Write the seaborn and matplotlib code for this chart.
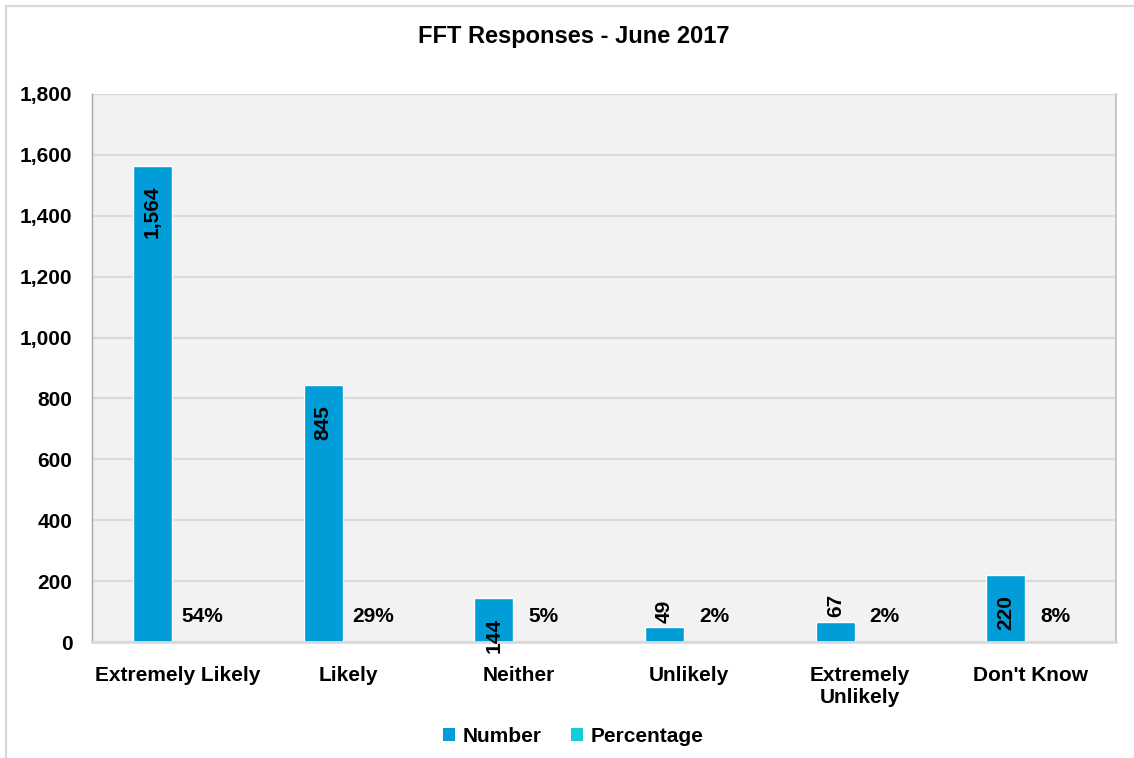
import matplotlib
matplotlib.use("Agg")
import matplotlib.pyplot as plt
from matplotlib.patches import Patch, Rectangle
from matplotlib.ticker import FuncFormatter
import pandas as pd
import seaborn as sns

# FFT survey results for June 2017
categories = ["Extremely Likely", "Likely", "Neither", "Unlikely",
              "Extremely\nUnlikely", "Don't Know"]
numbers = [1564, 845, 144, 49, 67, 220]
percentages = [0.54, 0.29, 0.05, 0.02, 0.02, 0.08]
series_names = ["Number", "Percentage"]
y_ticks = [0, 200, 400, 600, 800, 1000, 1200, 1400, 1600, 1800]

NUM_COLOR = "#009DD9"
PCT_COLOR = "#12CCD8"
FONT = "Liberation Sans"

df = pd.DataFrame({
    "category": categories * 2,
    "series": [series_names[0]] * len(categories) + [series_names[1]] * len(categories),
    "value": numbers + percentages,
})

sns.set_theme(style="white")
plt.rcParams["font.family"] = [FONT, "DejaVu Sans"]
plt.rcParams["font.weight"] = "bold"
plt.rcParams["text.color"] = "black"

fig = plt.figure(figsize=(11.34, 7.58), dpi=100)
W, H = 1134, 758
ax = fig.add_axes([92 / W, 1 - 642 / H, (1116 - 92) / W, (642 - 94) / H])

sns.barplot(data=df, x="category", y="value", hue="series",
            palette=[NUM_COLOR, PCT_COLOR], width=0.58, gap=0.21,
            saturation=1, ax=ax, legend=False)

ax.set_facecolor("#F2F2F2")
ax.set_ylim(0, 1800)
ax.set_yticks(y_ticks)
ax.yaxis.set_major_formatter(FuncFormatter(lambda v, _: f"{int(v):,}"))
ax.grid(axis="y", color="#D9D9D9", linewidth=1.6)
ax.set_axisbelow(True)
ax.set_xlabel("")
ax.set_ylabel("")
ax.tick_params(axis="y", length=0, pad=14, labelsize=15)
ax.tick_params(axis="x", length=0, pad=17, labelsize=15)
for lab in ax.get_xticklabels() + ax.get_yticklabels():
    lab.set_fontweight("bold")
    lab.set_color("black")
for lab in ax.get_xticklabels():
    lab.set_linespacing(1.25)

ax.spines["top"].set_visible(False)
ax.spines["left"].set_color("#A6A6A6")
ax.spines["left"].set_linewidth(1.0)
ax.spines["right"].set_color("#BFBFBF")
ax.spines["right"].set_linewidth(1.2)
ax.spines["bottom"].set_color("#D9D9D9")
ax.spines["bottom"].set_linewidth(2.0)

# value labels on the Number bars
for bar, val in zip(ax.containers[0], numbers):
    x = bar.get_x() + bar.get_width() / 2
    if val >= 100:
        ax.annotate(f"{val:,}", (x, val), xytext=(0, -14.5),
                    textcoords="offset points", rotation=90,
                    ha="center", va="top", fontsize=15, fontweight="bold",
                    color="black")
    else:
        ax.annotate(f"{val:,}", (x, val), xytext=(0, 3),
                    textcoords="offset points", rotation=90,
                    ha="center", va="bottom", fontsize=15, fontweight="bold",
                    color="black")

# percentage labels above the (near-zero) Percentage bars
for bar, val in zip(ax.containers[1], percentages):
    x = bar.get_x() + bar.get_width() / 2
    ax.annotate(f"{val:.0%}", (x, val), xytext=(0, 18.5),
                textcoords="offset points", ha="center", va="center",
                fontsize=15, fontweight="bold", color="black")

fig.text(574 / W, 1 - 36 / H, "FFT Responses - June 2017", ha="center",
         va="center", fontsize=17, fontweight="bold", color="black")

handles = [Patch(facecolor=NUM_COLOR, edgecolor="none", label=series_names[0]),
           Patch(facecolor=PCT_COLOR, edgecolor="none", label=series_names[1])]
fig.legend(handles=handles, loc="center", bbox_to_anchor=(573 / W, 1 - 736 / H),
           ncol=2, frameon=False, handlelength=0.6, handleheight=0.6,
           handletextpad=0.35, columnspacing=1.4, labelcolor="black",
           prop={"family": FONT, "weight": "bold", "size": 15})

# outer chart frame
fig.patches.append(Rectangle((6 / W, -0.1), 1.2, 1.1 - 6 / H,
                             transform=fig.transFigure, fill=False,
                             edgecolor="#D9D9D9", linewidth=1.6))

fig.savefig("out.png", dpi=100)
